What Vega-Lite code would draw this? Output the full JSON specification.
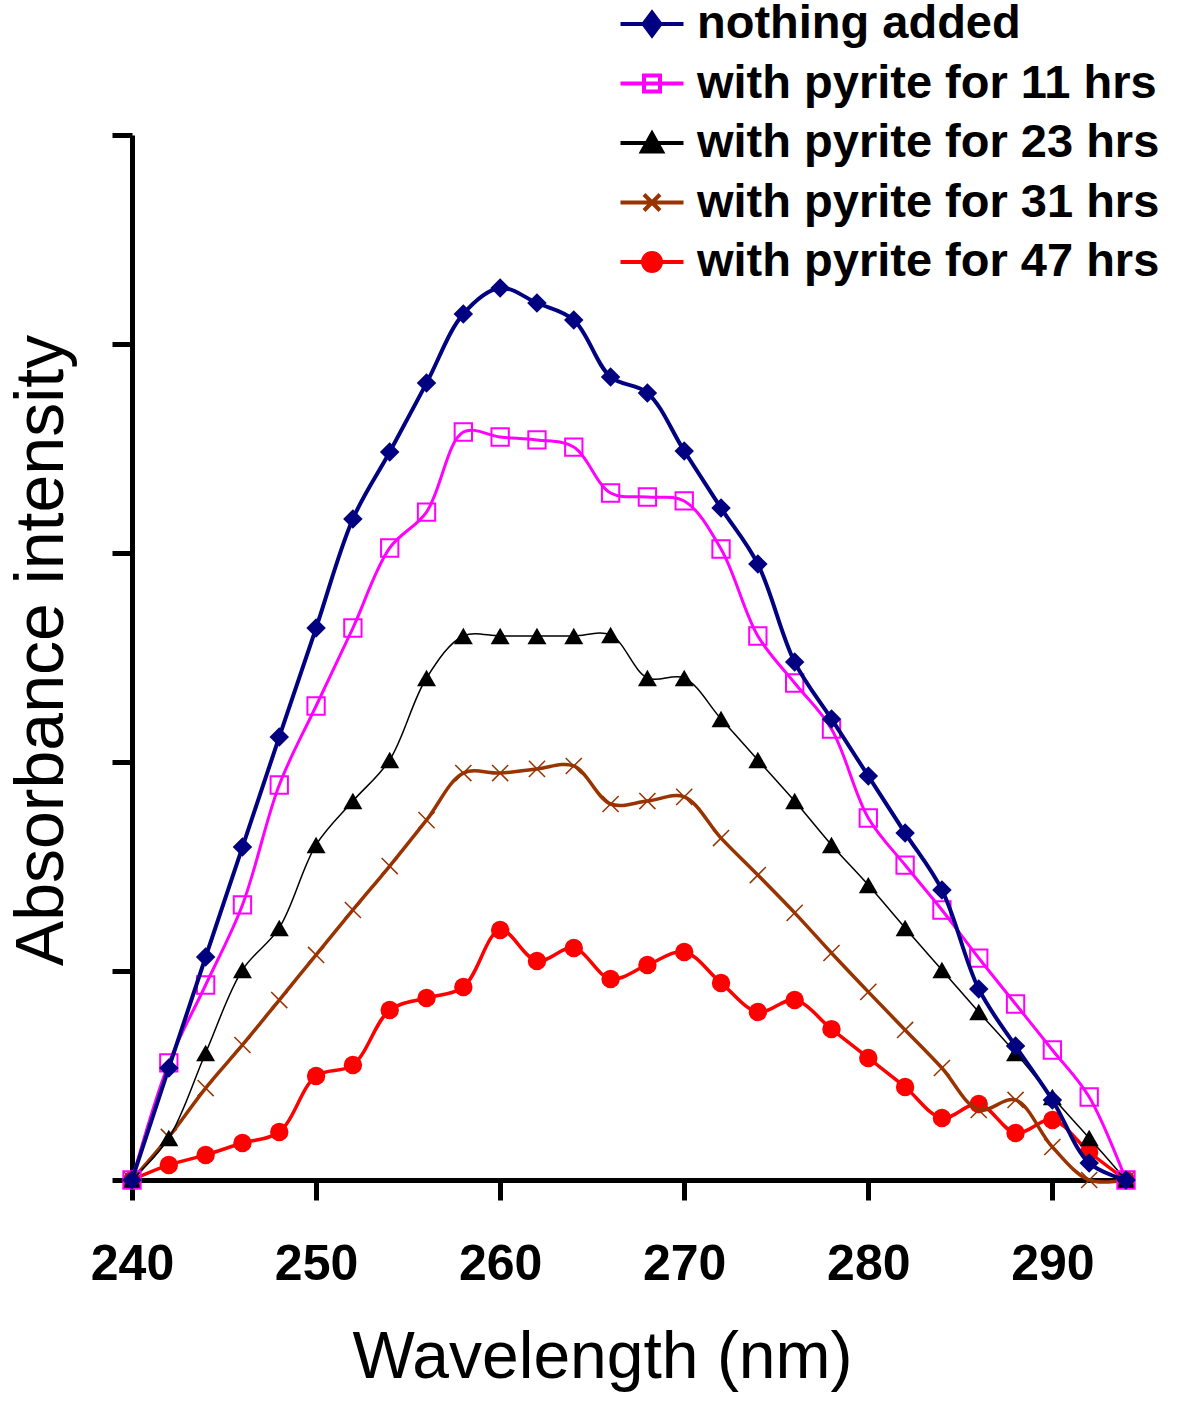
{
  "$schema": "https://vega.github.io/schema/vega-lite/v6.json",
  "width": 994,
  "height": 1045,
  "autosize": {"type": "none"},
  "padding": {"left": 132, "top": 135, "right": 74, "bottom": 221},
  "background": "white",
  "config": {
    "view": {"stroke": null},
    "font": "Liberation Sans",
    "legend": {
      "symbolSize": 2500,
      "labelFont": "Liberation Sans", "labelFontWeight": "bold", "labelFontSize": 47, "labelColor": "black",
      "labelOffset": 18, "labelLimit": 700, "rowPadding": 9.5, "padding": 0
    }
  },
  "data": {
    "values": [
      {"wl": 240, "nothing added": 0, "with pyrite for 11 hrs": 0, "with pyrite for 23 hrs": 0, "with pyrite for 31 hrs": 0, "with pyrite for 47 hrs": 0},
      {"wl": 242, "nothing added": 0.536, "with pyrite for 11 hrs": 0.560, "with pyrite for 23 hrs": 0.201, "with pyrite for 31 hrs": 0.206, "with pyrite for 47 hrs": 0.072},
      {"wl": 244, "nothing added": 1.067, "with pyrite for 11 hrs": 0.933, "with pyrite for 23 hrs": 0.608, "with pyrite for 31 hrs": 0.440, "with pyrite for 47 hrs": 0.120},
      {"wl": 246, "nothing added": 1.593, "with pyrite for 11 hrs": 1.316, "with pyrite for 23 hrs": 1.005, "with pyrite for 31 hrs": 0.646, "with pyrite for 47 hrs": 0.177},
      {"wl": 248, "nothing added": 2.120, "with pyrite for 11 hrs": 1.890, "with pyrite for 23 hrs": 1.206, "with pyrite for 31 hrs": 0.861, "with pyrite for 47 hrs": 0.230},
      {"wl": 250, "nothing added": 2.641, "with pyrite for 11 hrs": 2.268, "with pyrite for 23 hrs": 1.603, "with pyrite for 31 hrs": 1.077, "with pyrite for 47 hrs": 0.498},
      {"wl": 252, "nothing added": 3.163, "with pyrite for 11 hrs": 2.641, "with pyrite for 23 hrs": 1.813, "with pyrite for 31 hrs": 1.292, "with pyrite for 47 hrs": 0.550},
      {"wl": 254, "nothing added": 3.483, "with pyrite for 11 hrs": 3.024, "with pyrite for 23 hrs": 2.010, "with pyrite for 31 hrs": 1.502, "with pyrite for 47 hrs": 0.813},
      {"wl": 256, "nothing added": 3.813, "with pyrite for 11 hrs": 3.196, "with pyrite for 23 hrs": 2.402, "with pyrite for 31 hrs": 1.722, "with pyrite for 47 hrs": 0.871},
      {"wl": 258, "nothing added": 4.144, "with pyrite for 11 hrs": 3.579, "with pyrite for 23 hrs": 2.603, "with pyrite for 31 hrs": 1.947, "with pyrite for 47 hrs": 0.923},
      {"wl": 260, "nothing added": 4.268, "with pyrite for 11 hrs": 3.555, "with pyrite for 23 hrs": 2.603, "with pyrite for 31 hrs": 1.947, "with pyrite for 47 hrs": 1.196},
      {"wl": 262, "nothing added": 4.196, "with pyrite for 11 hrs": 3.541, "with pyrite for 23 hrs": 2.603, "with pyrite for 31 hrs": 1.967, "with pyrite for 47 hrs": 1.048},
      {"wl": 264, "nothing added": 4.115, "with pyrite for 11 hrs": 3.507, "with pyrite for 23 hrs": 2.603, "with pyrite for 31 hrs": 1.981, "with pyrite for 47 hrs": 1.110},
      {"wl": 266, "nothing added": 3.842, "with pyrite for 11 hrs": 3.287, "with pyrite for 23 hrs": 2.608, "with pyrite for 31 hrs": 1.799, "with pyrite for 47 hrs": 0.962},
      {"wl": 268, "nothing added": 3.766, "with pyrite for 11 hrs": 3.268, "with pyrite for 23 hrs": 2.402, "with pyrite for 31 hrs": 1.813, "with pyrite for 47 hrs": 1.029},
      {"wl": 270, "nothing added": 3.488, "with pyrite for 11 hrs": 3.249, "with pyrite for 23 hrs": 2.402, "with pyrite for 31 hrs": 1.833, "with pyrite for 47 hrs": 1.091},
      {"wl": 272, "nothing added": 3.215, "with pyrite for 11 hrs": 3.019, "with pyrite for 23 hrs": 2.206, "with pyrite for 31 hrs": 1.636, "with pyrite for 47 hrs": 0.943},
      {"wl": 274, "nothing added": 2.947, "with pyrite for 11 hrs": 2.603, "with pyrite for 23 hrs": 2.010, "with pyrite for 31 hrs": 1.459, "with pyrite for 47 hrs": 0.804},
      {"wl": 276, "nothing added": 2.478, "with pyrite for 11 hrs": 2.378, "with pyrite for 23 hrs": 1.813, "with pyrite for 31 hrs": 1.278, "with pyrite for 47 hrs": 0.861},
      {"wl": 278, "nothing added": 2.206, "with pyrite for 11 hrs": 2.158, "with pyrite for 23 hrs": 1.603, "with pyrite for 31 hrs": 1.086, "with pyrite for 47 hrs": 0.722},
      {"wl": 280, "nothing added": 1.933, "with pyrite for 11 hrs": 1.732, "with pyrite for 23 hrs": 1.411, "with pyrite for 31 hrs": 0.900, "with pyrite for 47 hrs": 0.584},
      {"wl": 282, "nothing added": 1.660, "with pyrite for 11 hrs": 1.507, "with pyrite for 23 hrs": 1.206, "with pyrite for 31 hrs": 0.718, "with pyrite for 47 hrs": 0.445},
      {"wl": 284, "nothing added": 1.388, "with pyrite for 11 hrs": 1.292, "with pyrite for 23 hrs": 1.005, "with pyrite for 31 hrs": 0.536, "with pyrite for 47 hrs": 0.297},
      {"wl": 286, "nothing added": 0.914, "with pyrite for 11 hrs": 1.062, "with pyrite for 23 hrs": 0.804, "with pyrite for 31 hrs": 0.335, "with pyrite for 47 hrs": 0.364},
      {"wl": 288, "nothing added": 0.641, "with pyrite for 11 hrs": 0.842, "with pyrite for 23 hrs": 0.608, "with pyrite for 31 hrs": 0.383, "with pyrite for 47 hrs": 0.225},
      {"wl": 290, "nothing added": 0.383, "with pyrite for 11 hrs": 0.622, "with pyrite for 23 hrs": 0.397, "with pyrite for 31 hrs": 0.158, "with pyrite for 47 hrs": 0.287},
      {"wl": 292, "nothing added": 0.081, "with pyrite for 11 hrs": 0.397, "with pyrite for 23 hrs": 0.201, "with pyrite for 31 hrs": 0.0, "with pyrite for 47 hrs": 0.134},
      {"wl": 294, "nothing added": 0, "with pyrite for 11 hrs": 0, "with pyrite for 23 hrs": 0, "with pyrite for 31 hrs": 0, "with pyrite for 47 hrs": 0}
    ]
  },
  "transform": [
    {"fold": ["nothing added", "with pyrite for 11 hrs", "with pyrite for 23 hrs", "with pyrite for 31 hrs", "with pyrite for 47 hrs"], "as": ["series", "v"]}
  ],
  "encoding": {
    "x": {
      "field": "wl", "type": "quantitative",
      "scale": {"domain": [240, 294], "nice": false, "zero": false},
      "axis": {
        "values": [240, 250, 260, 270, 280, 290],
        "title": "Wavelength (nm)",
        "titleFont": "Liberation Sans", "titleFontSize": 66, "titleFontWeight": "normal", "titleColor": "black", "titlePadding": 36,
        "titleX": 470, "titleAlign": "center", "titleAnchor": "start",
        "labelFont": "Liberation Sans", "labelFontSize": 50, "labelFontWeight": "bold", "labelColor": "black", "labelPadding": 39,
        "labelFlush": false, "labelOverlap": false,
        "tickSize": 20, "tickWidth": 5, "tickColor": "black",
        "domainColor": "black", "domainWidth": 5, "grid": false
      }
    },
    "y": {
      "field": "v", "type": "quantitative",
      "scale": {"domain": [0, 5], "nice": false},
      "axis": {
        "values": [0, 1, 2, 3, 4, 5],
        "labels": false,
        "title": "Absorbance intensity",
        "titleFont": "Liberation Sans", "titleFontSize": 68, "titleFontWeight": "normal", "titleColor": "black", "titlePadding": 33,
        "titleY": 515, "titleAlign": "center", "titleAnchor": "start",
        "tickSize": 20, "tickWidth": 5, "tickColor": "black",
        "domainColor": "black", "domainWidth": 5, "grid": false
      }
    }
  },
  "layer": [
    {
      "transform": [{"filter": "datum.series === 'none of these'"}],
      "mark": {"type": "point", "opacity": 1},
      "encoding": {
        "fill": {
          "field": "series", "type": "nominal",
          "scale": {
            "domain": ["nothing added", "with pyrite for 11 hrs", "with pyrite for 23 hrs", "with pyrite for 31 hrs", "with pyrite for 47 hrs"],
            "range": ["#000080", "transparent", "#000000", "transparent", "#FF0000"]
          },
          "legend": {"orient": "none", "legendX": 493, "legendY": -138, "title": null}
        },
        "stroke": {
          "field": "series", "type": "nominal",
          "scale": {
            "domain": ["nothing added", "with pyrite for 11 hrs", "with pyrite for 23 hrs", "with pyrite for 31 hrs", "with pyrite for 47 hrs"],
            "range": ["#000080", "#FF00FF", "#000000", "#993300", "#FF0000"]
          },
          "legend": {"orient": "none", "legendX": 493, "legendY": -138, "title": null}
        },
        "strokeWidth": {
          "field": "series", "type": "ordinal",
          "scale": {
            "domain": ["nothing added", "with pyrite for 11 hrs", "with pyrite for 23 hrs", "with pyrite for 31 hrs", "with pyrite for 47 hrs"],
            "range": [4, 4, 2, 4, 4]
          },
          "legend": {"orient": "none", "legendX": 493, "legendY": -138, "title": null}
        },
        "shape": {
          "field": "series", "type": "nominal",
          "scale": {
            "domain": ["nothing added", "with pyrite for 11 hrs", "with pyrite for 23 hrs", "with pyrite for 31 hrs", "with pyrite for 47 hrs"],
            "range": [
              "M-1.26,0H1.26M-0.34,0L0,-0.46L0.34,0L0,0.46Z",
              "M-1.26,0H1.26M-0.32,-0.32H0.32V0.32H-0.32Z",
              "M-1.26,0H1.26M-0.4,0.34L0,-0.38L0.4,0.34Z",
              "M-1.26,0H1.26M-0.32,-0.32L0.32,0.32M-0.32,0.32L0.32,-0.32",
              "M-1.26,0H1.26M0.36,0A0.36,0.36,0,1,1,-0.36,0A0.36,0.36,0,1,1,0.36,0Z"
            ]
          },
          "legend": {"orient": "none", "legendX": 493, "legendY": -138, "title": null}
        }
      }
    },
    {
      "transform": [{"filter": "datum.series === 'with pyrite for 47 hrs'"}],
      "mark": {"type": "line", "interpolate": "catmull-rom", "color": "#FF0000", "strokeWidth": 3.5,
        "point": {"shape": "circle", "filled": true, "size": 340, "color": "#FF0000", "opacity": 1}}
    },
    {
      "transform": [{"filter": "datum.series === 'with pyrite for 31 hrs'"}],
      "mark": {"type": "line", "interpolate": "catmull-rom", "color": "#993300", "strokeWidth": 3.5,
        "point": {"shape": "M-1,-1L1,1M-1,1L1,-1", "filled": false, "size": 260, "color": "#993300", "strokeWidth": 1.5, "opacity": 1}}
    },
    {
      "transform": [{"filter": "datum.series === 'with pyrite for 23 hrs'"}],
      "mark": {"type": "line", "interpolate": "catmull-rom", "color": "#000000", "strokeWidth": 1.5,
        "point": {"shape": "triangle-up", "filled": true, "size": 360, "color": "#000000", "opacity": 1}}
    },
    {
      "transform": [{"filter": "datum.series === 'with pyrite for 11 hrs'"}],
      "mark": {"type": "line", "interpolate": "catmull-rom", "color": "#FF00FF", "strokeWidth": 3,
        "point": {"shape": "square", "filled": false, "size": 300, "color": "#FF00FF", "strokeWidth": 2, "opacity": 1}}
    },
    {
      "transform": [{"filter": "datum.series === 'nothing added'"}],
      "mark": {"type": "line", "interpolate": "catmull-rom", "color": "#000080", "strokeWidth": 4,
        "point": {"shape": "diamond", "filled": true, "size": 380, "color": "#000080", "opacity": 1}}
    }
  ]
}
